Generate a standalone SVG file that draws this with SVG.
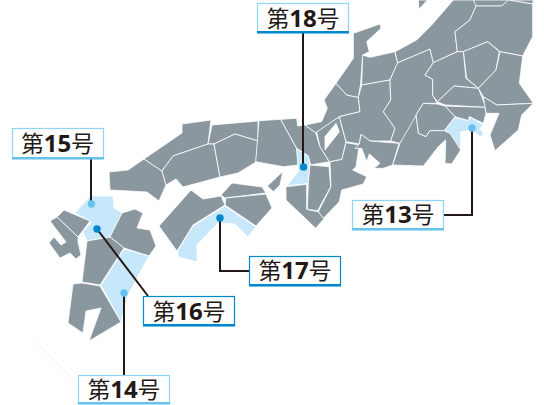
<svg xmlns="http://www.w3.org/2000/svg" width="544" height="405" viewBox="0 0 544 405">
<style>
.g{fill:#8a979f;stroke:#fff;stroke-width:.8;stroke-linejoin:round;vector-effect:non-scaling-stroke}
.p{fill:#c7e7fa;stroke:#fff;stroke-width:.8;stroke-linejoin:round;vector-effect:non-scaling-stroke}
.box{fill:#fff;stroke-width:1.2}
.lt{stroke:#8fd4f3}
.bar{stroke:none}
.lb{font-family:"Noto Sans CJK JP","Noto Sans",sans-serif;font-size:22.500px;fill:#231815;text-anchor:middle}
.n{font-family:"Open Sans","Noto Sans",sans-serif;font-weight:700;font-size:24px}
.c{fill:none;stroke:#231815;stroke-width:2}
</style>
<rect width="544" height="405" fill="#fff"/>
<g id="map">
<line x1="37" y1="343" x2="74" y2="380" stroke="#eeeeee" stroke-width="1"/>
<g id="kyushu">
<polygon class="p" points="75,213 90,196 113,196 114,208 122,213 110,237 87,241 83,232 91,222"/>
<polygon class="g" points="57,217 64,210 90,221 78,237"/>
<polygon class="g" points="50,221 57,217 78,237 78,242 81,255 76,259 70,253 60,258 49,243 54,237 61,245 66,242"/>
<polygon class="g" points="122,213 135,209 143,213 137,228 150,230 156,246 149,256 124,248 110,237"/>
<polygon class="g" points="87,241 110,237 124,248 100,285 82,282"/>
<polygon class="p" points="124,249 149,256 128,295 121,322 101,285"/>
<polygon class="g" points="73,284 82,283 100,286 121,322 89,341 101,308 86,311 83,333 68,323"/>
</g>
<g id="chugoku">
<polygon class="g" points="109,172 128,170 144,159 162,171 166,185 159,201 147,192 110,190"/>
<polygon class="g" points="144,159 182,133 182,124 211,120 208,144 173,156 162,171"/>
<polygon class="g" points="212,125 258,121 258,141 235,134 214,144 208,144"/>
<polygon class="g" points="173,156 208,144 214,144 220,177 183,187 176,179 166,185 162,171"/>
<polygon class="g" points="214,144 235,134 258,141 256,162 238,173 220,177"/>
</g>
<g id="shikoku">
<polygon class="g" points="221,195 232,183 262,187 266,193 225,198"/>
<polygon class="g" points="159,226 191,190 203,199 221,196 225,205 193,225 177,251"/>
<polygon class="g" points="226,198 266,194 272,208 256,226 225,205"/>
<polygon class="p" points="225,206 256,227 248,237 235,224 218,223 197,245 197,262 178,257 178,250 193,226"/>
</g>
<g id="honshu" transform="translate(250 0) scale(.33333)">
<polygon class="g" points="27,362 92,358 140,445 145,495 100,500 17,485"/>
<polygon class="g" points="92,358 140,355 143,378 165,375 197,398 210,440 238,485 182,495 175,468 140,445"/>
<polygon class="p" points="140,445 175,468 180,495 175,550 110,558 145,515"/>
<polygon class="g" points="98,515 90,555 70,575 52,558"/>
<polygon class="g" points="108,560 170,553 170,628 203,635 223,655 197,685 108,600"/>
<polygon class="g" points="180,495 237,500 242,560 203,632 172,628 175,550"/>
<polygon class="g" points="240,485 275,478 288,428 328,435 318,500 308,510 350,530 340,552 275,570 268,605 220,655 205,635 243,560"/>
<path class="g" fill-rule="evenodd" d="M200,395 268,350 288,425 275,478 238,485 210,440ZM258,370 225,410 225,450 268,395Z"/>
<polygon class="g" points="165,375 215,365 232,325 222,300 258,250 290,285 325,292 330,335 268,350 197,398"/>
<polygon class="g" points="258,250 310,175 310,100 390,72 393,85 350,125 358,155 338,165 332,250 325,292 290,285"/>
<polygon class="g" points="338,165 360,172 435,155 443,190 420,240 335,255"/>
<polygon class="g" points="335,255 420,240 422,300 400,335 435,385 422,423 360,423 333,403 328,432 288,425 268,350 330,335 325,292"/>
<polygon class="g" points="333,403 360,423 447,430 428,495 400,505 372,505 390,490 358,462 350,485 335,445 315,445 328,432"/>
<polygon class="g" points="443,188 540,147 550,188 525,225 548,238 548,285 562,310 520,310 498,345 500,365 450,430 422,423 435,385 400,335 422,300 420,240"/>
<polygon class="g" points="435,155 500,120 545,75 610,0 670,0 680,15 660,60 615,95 622,155 550,188 540,147 443,188"/>
<polygon class="g" points="505,0 532,0 507,28"/>
<polygon class="g" points="670,0 775,0 755,18 678,18"/>
<polygon class="g" points="775,0 850,0 848,12"/>
<polygon class="g" points="678,18 755,18 775,0 848,12 848,110 818,168 750,155 713,125 640,155 622,155 615,95 660,60"/>
<polygon class="g" points="640,155 713,125 748,155 738,210 685,265 650,235"/>
<polygon class="g" points="550,188 622,155 640,155 648,235 685,265 612,258 562,305 548,285 548,238 525,225"/>
<polygon class="g" points="750,155 818,168 808,250 850,310 740,315 700,290 685,265 738,210"/>
<polygon class="g" points="612,258 685,265 708,322 585,315 562,305"/>
<polygon class="g" points="700,290 740,315 850,310 815,345 805,390 735,452 720,405 747,340 708,340 705,322"/>
<polygon class="g" points="585,318 705,322 708,340 700,370 658,350 655,362 615,350"/>
<polygon class="g" points="520,310 562,312 585,318 615,350 583,392 540,392 528,410 505,400 498,345"/>
<polygon class="p" points="615,352 655,362 660,350 700,375 690,385 702,402 690,410 665,390 632,395 632,450 600,400 583,392"/>
<polygon class="g" points="498,347 505,400 528,410 540,392 583,392 600,400 632,450 605,492 585,490 587,420 565,440 520,498 428,495 450,430"/>
</g>
</g>
<g id="connectors">
<line class="c" x1="91" y1="159" x2="91" y2="204"/>
<line class="c" x1="97" y1="229" x2="148" y2="296"/>
<line class="c" x1="124" y1="293" x2="124" y2="375"/>
<polyline class="c" points="220,218 220,271 249,271"/>
<line class="c" x1="303" y1="33" x2="303" y2="167"/>
<polyline class="c" points="443,215 472,215 472,128"/>
</g>
<g id="dots">
<circle cx="91.500" cy="204" r="3.700" fill="#67c2ec"/>
<circle cx="97" cy="229" r="3.700" fill="#0088cc"/>
<circle cx="124" cy="293" r="3.700" fill="#67c2ec"/>
<circle cx="220" cy="218" r="3.700" fill="#0088cc"/>
<circle cx="303.500" cy="167" r="3.700" fill="#0088cc"/>
<circle cx="472" cy="128" r="3.700" fill="#67c2ec"/>
</g>
<g id="label15"><rect class="box lt" x="12.500" y="128.500" width="91" height="30"/><rect class="bar" x="12" y="157" width="92" height="2.500" fill="#67c2ec"/><text class="lb" x="57.500" y="152">第<tspan class="n">15</tspan>号</text></g>
<g id="label16"><rect class="box" stroke="#0088cc" x="143.500" y="296.500" width="91" height="29"/><rect class="bar" x="143" y="324" width="92" height="2.500" fill="#0088cc"/><text class="lb" x="189" y="320">第<tspan class="n">16</tspan>号</text></g>
<g id="label14"><rect class="box lt" x="78.500" y="375.500" width="91" height="28"/><rect class="bar" x="78" y="402" width="92" height="2.500" fill="#67c2ec"/><text class="lb" x="124" y="398">第<tspan class="n">14</tspan>号</text></g>
<g id="label17"><rect class="box" stroke="#0088cc" x="249.500" y="256.500" width="91" height="29"/><rect class="bar" x="249" y="284" width="92" height="2.500" fill="#0088cc"/><text class="lb" x="295" y="279">第<tspan class="n">17</tspan>号</text></g>
<g id="label18"><rect class="box lt" x="257.500" y="3.500" width="91" height="29"/><rect class="bar" x="257" y="31" width="92" height="2.500" fill="#0088cc"/><text class="lb" x="303" y="27">第<tspan class="n">18</tspan>号</text></g>
<g id="label13"><rect class="box lt" x="352.500" y="200.500" width="91" height="29"/><rect class="bar" x="352" y="228" width="92" height="2.500" fill="#67c2ec"/><text class="lb" x="398" y="223">第<tspan class="n">13</tspan>号</text></g>
</svg>
